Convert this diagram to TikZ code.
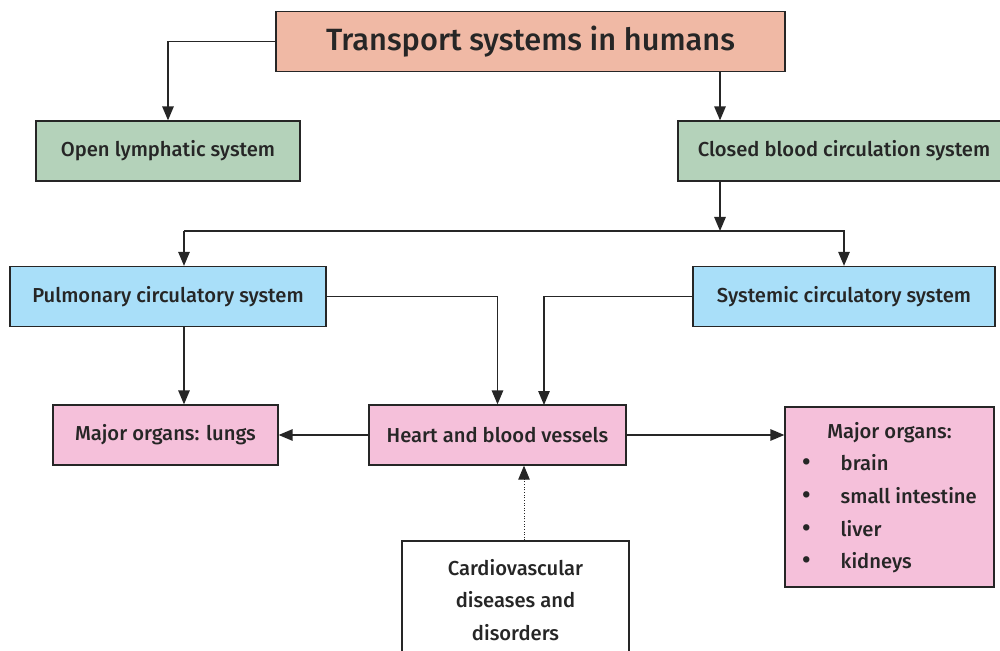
\documentclass[tikz,border=0pt]{standalone}
\usepackage{fontspec}
\setmainfont{Fira Sans}[UprightFont=* Medium]
\usetikzlibrary{arrows.meta}
\definecolor{salmon}{HTML}{F0B9A5}
\definecolor{sage}{HTML}{B4D2BA}
\definecolor{skyblue}{HTML}{A9DFF9}
\definecolor{rosepink}{HTML}{F5C0DA}
\definecolor{edgegray}{HTML}{262626}

\begin{document}
\begin{tikzpicture}[x=0.02cm, y=-0.02cm, font=\fontsize{11.5}{18.5}\selectfont, text=edgegray,
  box/.style={draw=edgegray, line width=0.75pt, minimum height=1.2cm, inner sep=0pt},
  wire/.style={draw=edgegray, line width=0.75pt},
  link/.style={wire, -{Triangle[length=2.8mm, width=2.3mm]}}]
\clip (0,0) rectangle (1000,651);
\node[box, fill=salmon, minimum width=10.18cm, font=\fontsize{17.5}{22}\selectfont] (title) at (530.5,41.5) {Transport systems in humans};
\node[box, fill=sage, minimum width=5.28cm] (open) at (168,151) {Open lymphatic system};
\node[box, fill=sage, minimum width=6.64cm] (closed) at (844,151) {Closed blood circulation system};
\node[box, fill=skyblue, minimum width=6.32cm] (pulm) at (168,296.5) {Pulmonary circulatory system};
\node[box, fill=skyblue, minimum width=6.04cm] (syst) at (844,296.5) {Systemic circulatory system};
\node[box, fill=rosepink, minimum width=4.5cm] (lungs) at (165.5,435) {Major organs: lungs};
\node[box, fill=rosepink, minimum width=5.14cm] (heart) at (497.5,435) {Heart and blood vessels};
\node[box, fill=rosepink, minimum width=4.18cm, minimum height=3.6cm] (organs) at (889.5,497) {\begin{tabular}{@{}l@{\hspace{0.6cm}}l@{}}
\multicolumn{2}{c}{Major organs:}\\
{\Large\textbullet} & brain\\
{\Large\textbullet} & small intestine\\
{\Large\textbullet} & liver\\
{\Large\textbullet} & kidneys
\end{tabular}};
\node[box, fill=white, minimum width=4.54cm, minimum height=2.36cm, align=center] (cardio) at (515.5,600) {Cardiovascular\\ diseases and\\ disorders};
\coordinate (split) at (720,231);
\coordinate (lefttap) at (184,231);
\coordinate (heartin) at (544,405);
\coordinate (cause) at ([xshift=0.17cm]cardio.north);
\draw[link] (title.west) -| (open.north);
\draw[link] (title.south -| split) -- (closed.north -| split);
\draw[link] (closed.south -| split) -- (split);
\draw[link] (split) -| (syst.north);
\draw[wire] (lefttap) -- (split);
\draw[link] (lefttap) -- (pulm.north -| lefttap);
\draw[link] (pulm.south -| lefttap) -- (lungs.north -| lefttap);
\draw[link] (pulm.east) -| (heart.north);
\draw[link] (syst.west) -| (heartin);
\draw[link] (heart.west) -- (lungs.east);
\draw[link] (heart.east) -- (heart.east -| organs.west);
\draw[link, line width=0.5pt, densely dotted] (cause) -- (cause |- heart.south);
\end{tikzpicture}
\end{document}
